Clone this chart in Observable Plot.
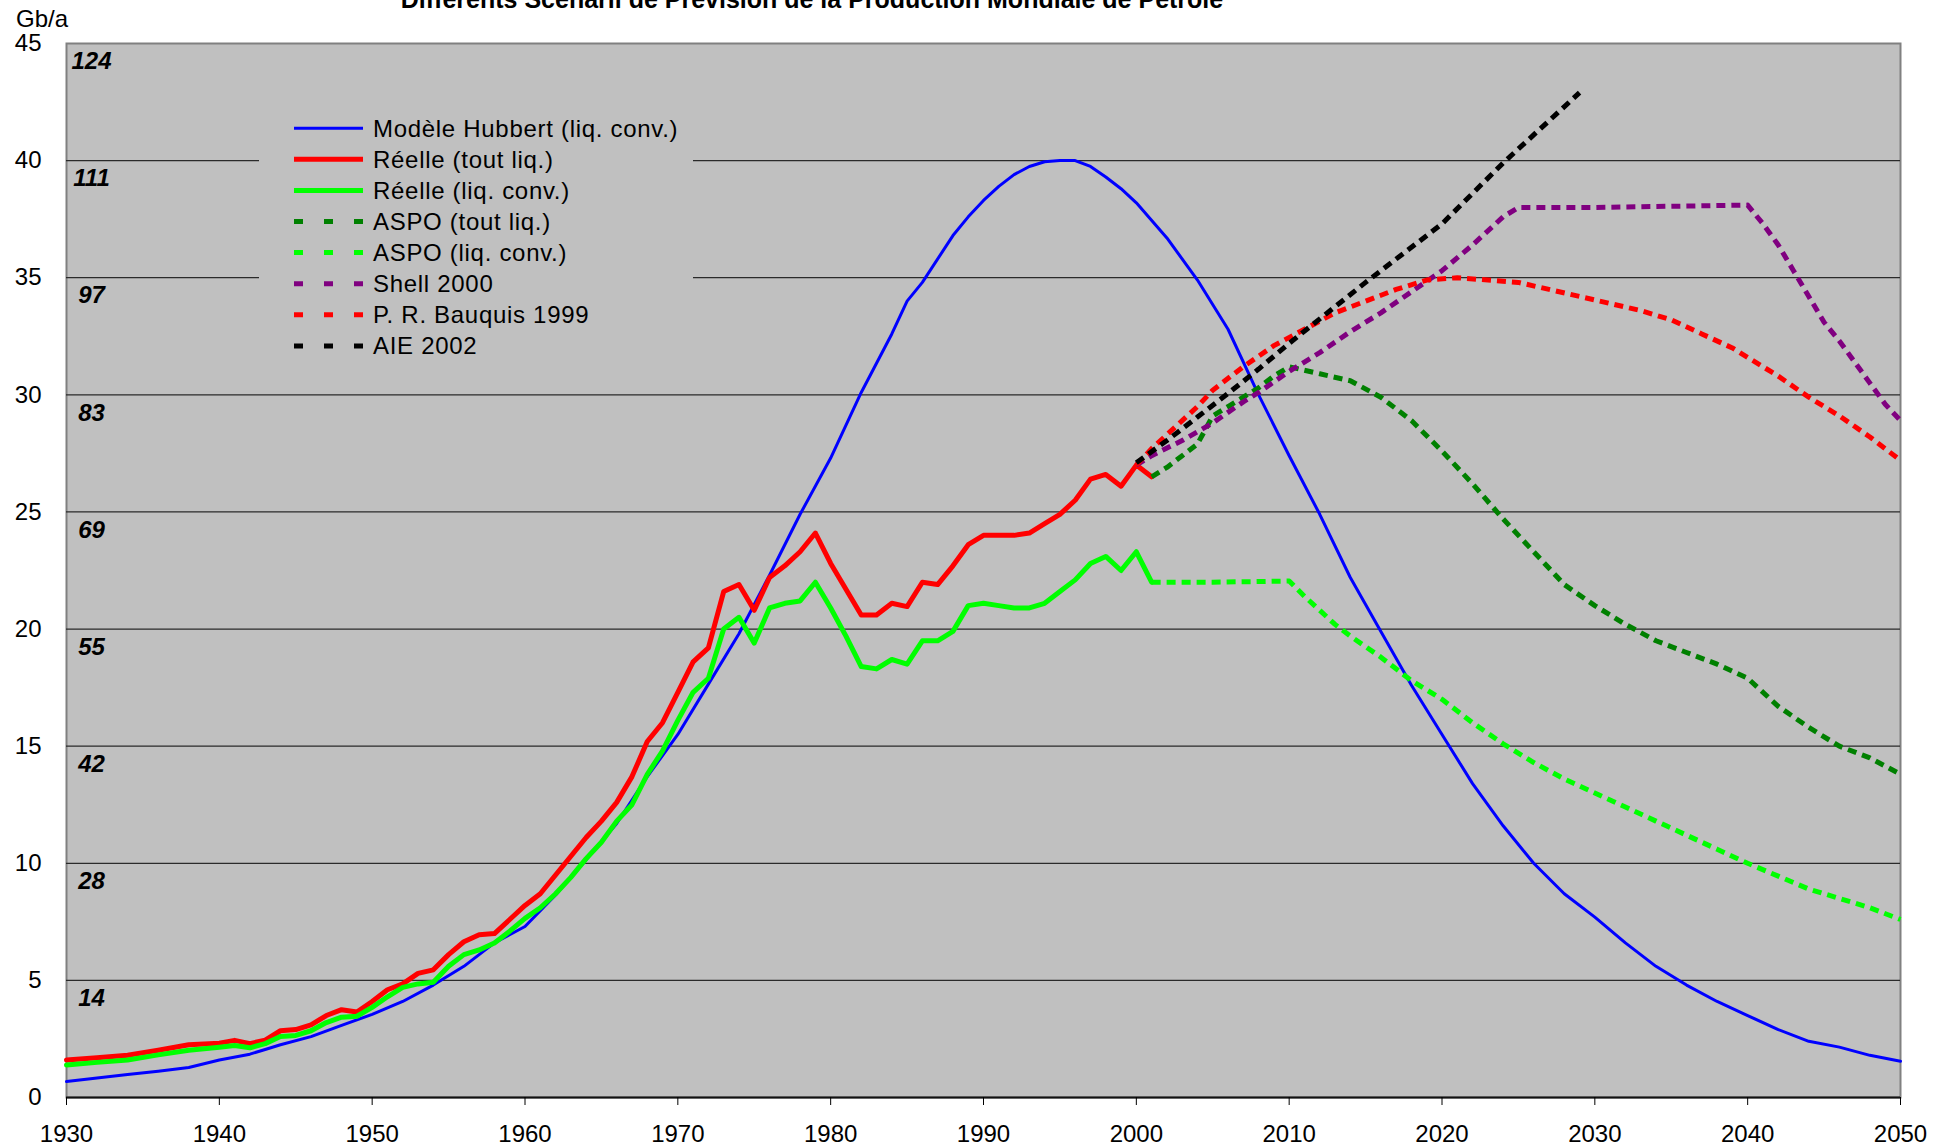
<!DOCTYPE html>
<html>
<head>
<meta charset="utf-8">
<script src="https://cdn.jsdelivr.net/npm/d3@7"></script>
<script src="https://cdn.jsdelivr.net/npm/@observablehq/plot@0.6"></script>
<style>
  html, body { margin: 0; padding: 0; background: #fff; }
  #wrap { position: relative; width: 1952px; height: 1146px; overflow: hidden; font-family: "Liberation Sans", Arial, sans-serif; }
  #overlay { position: absolute; left: 0; top: 0; pointer-events: none; }
</style>
</head>
<body>
<div id="wrap"><div id="chart"></div><svg id="overlay" width="1952" height="1146"></svg></div>
<script>
// ---- Data (Gb/a) ----
const hubbert = [[1930,0.68],[1932,0.83],[1934,0.98],[1936,1.12],[1938,1.28],[1940,1.6],[1942,1.85],[1943,2.05],[1944,2.25],[1946,2.6],[1948,3.08],[1950,3.55],[1952,4.1],[1954,4.8],[1956,5.6],[1958,6.6],[1960,7.3],[1962,8.65],[1964,10.15],[1966,11.7],[1968,13.7],[1970,15.5],[1972,17.65],[1974,19.8],[1976,22.3],[1978,24.9],[1980,27.3],[1982,30.1],[1984,32.6],[1985,34.0],[1986,34.8],[1988,36.8],[1989,37.6],[1990,38.3],[1991,38.9],[1992,39.4],[1993,39.75],[1994,39.95],[1995,40.0],[1996,40.0],[1997,39.75],[1998,39.3],[1999,38.8],[2000,38.2],[2002,36.7],[2004,34.9],[2006,32.8],[2008,30.0],[2010,27.4],[2012,24.9],[2014,22.2],[2016,19.9],[2018,17.6],[2020,15.5],[2022,13.4],[2024,11.6],[2026,10.0],[2028,8.7],[2030,7.7],[2032,6.6],[2034,5.6],[2036,4.8],[2038,4.1],[2040,3.5],[2042,2.9],[2044,2.4],[2046,2.15],[2048,1.8],[2050,1.55]];
const reelleTout = [[1930,1.6],[1932,1.7],[1934,1.8],[1936,2.02],[1938,2.25],[1940,2.32],[1941,2.44],[1942,2.3],[1943,2.45],[1944,2.85],[1945,2.9],[1946,3.1],[1947,3.5],[1948,3.75],[1949,3.65],[1950,4.1],[1951,4.6],[1952,4.85],[1953,5.3],[1954,5.45],[1955,6.1],[1956,6.65],[1957,6.95],[1958,7.0],[1959,7.6],[1960,8.2],[1961,8.7],[1962,9.5],[1963,10.3],[1964,11.1],[1965,11.8],[1966,12.6],[1967,13.7],[1968,15.2],[1969,16.0],[1970,17.3],[1971,18.6],[1972,19.2],[1973,21.6],[1974,21.9],[1975,20.8],[1976,22.2],[1977,22.7],[1978,23.3],[1979,24.1],[1980,22.8],[1981,21.7],[1982,20.6],[1983,20.6],[1984,21.1],[1985,20.96],[1986,22.0],[1987,21.9],[1988,22.7],[1989,23.6],[1990,24.0],[1991,24.0],[1992,24.0],[1993,24.1],[1994,24.5],[1995,24.9],[1996,25.5],[1997,26.4],[1998,26.6],[1999,26.1],[2000,27.0],[2001,26.5]];
const reelleConv = [[1930,1.39],[1932,1.5],[1934,1.6],[1936,1.82],[1938,2.02],[1940,2.15],[1941,2.22],[1942,2.12],[1943,2.3],[1944,2.6],[1945,2.65],[1946,2.85],[1947,3.2],[1948,3.43],[1949,3.47],[1950,3.85],[1951,4.3],[1952,4.7],[1953,4.85],[1954,4.92],[1955,5.6],[1956,6.1],[1957,6.3],[1958,6.6],[1959,7.1],[1960,7.65],[1961,8.1],[1962,8.7],[1963,9.4],[1964,10.2],[1965,10.9],[1966,11.8],[1967,12.5],[1968,13.8],[1969,14.8],[1970,16.1],[1971,17.3],[1972,17.9],[1973,20.0],[1974,20.5],[1975,19.4],[1976,20.9],[1977,21.1],[1978,21.2],[1979,22.0],[1980,20.9],[1981,19.7],[1982,18.4],[1983,18.3],[1984,18.7],[1985,18.5],[1986,19.5],[1987,19.5],[1988,19.9],[1989,21.0],[1990,21.1],[1991,21.0],[1992,20.9],[1993,20.9],[1994,21.1],[1995,21.6],[1996,22.1],[1997,22.8],[1998,23.1],[1999,22.5],[2000,23.3],[2001,22.0]];
const aspoTout = [[2001,26.5],[2002,26.9],[2003,27.4],[2004,27.9],[2005,29.1],[2006,29.5],[2007,29.9],[2008,30.3],[2009,30.8],[2010,31.2],[2012,30.9],[2014,30.6],[2016,29.9],[2018,28.9],[2020,27.6],[2022,26.2],[2024,24.7],[2026,23.3],[2028,21.9],[2030,21.0],[2032,20.2],[2034,19.5],[2036,19.0],[2038,18.5],[2040,17.9],[2042,16.7],[2044,15.8],[2046,15.0],[2048,14.5],[2050,13.8]];
const aspoConv = [[2001,22.0],[2005,22.0],[2010,22.05],[2011,21.4],[2012,20.8],[2013,20.2],[2014,19.7],[2015,19.25],[2016,18.8],[2018,17.8],[2020,17.0],[2022,16.0],[2024,15.1],[2026,14.3],[2028,13.6],[2030,13.0],[2032,12.4],[2034,11.8],[2036,11.2],[2038,10.6],[2040,10.0],[2042,9.45],[2044,8.9],[2046,8.5],[2048,8.1],[2050,7.6]];
const shell2000 = [[2000,27.0],[2001,27.4],[2003,28.05],[2005,28.8],[2007,29.7],[2008,30.1],[2010,31.0],[2012,31.8],[2014,32.7],[2016,33.5],[2018,34.4],[2020,35.3],[2022,36.4],[2024,37.6],[2025,38.0],[2030,38.0],[2035,38.05],[2040,38.1],[2041,37.3],[2042,36.4],[2043,35.3],[2044,34.2],[2045,33.1],[2046,32.3],[2047,31.4],[2048,30.5],[2049,29.6],[2050,28.9]];
const bauquis1999 = [[2000,27.0],[2001,27.7],[2003,28.9],[2004,29.5],[2005,30.2],[2007,31.2],[2009,32.1],[2011,32.8],[2013,33.5],[2015,34.0],[2017,34.5],[2019,34.9],[2021,35.0],[2023,34.9],[2025,34.8],[2027,34.5],[2029,34.2],[2031,33.9],[2033,33.6],[2035,33.2],[2037,32.6],[2039,32.0],[2040,31.6],[2042,30.8],[2044,29.9],[2046,29.1],[2048,28.2],[2050,27.2]];
const aie2002 = [[2000,27.1],[2002,28.05],[2004,29.05],[2006,30.06],[2008,31.1],[2010,32.2],[2015,34.8],[2020,37.3],[2024,39.9],[2029,42.9]];

const seriesNames = ["Modèle Hubbert (liq. conv.)","Réelle (tout liq.)","Réelle (liq. conv.)","ASPO (tout liq.)","ASPO (liq. conv.)","Shell 2000","P. R. Bauquis 1999","AIE 2002"];
const seriesData = [hubbert, reelleTout, reelleConv, aspoTout, aspoConv, shell2000, bauquis1999, aie2002];
const seriesColors = ["#0000ff","#ff0000","#00ff00","#008000","#00ff00","#800080","#ff0000","#000000"];
const seriesDashed = [false,false,false,true,true,true,true,true];
const seriesWidth = [3,5,5,5,5,5,5,5];

const xTicks = d3.range(1930, 2051, 10);
const yTicks = [0,5,10,15,20,25,30,35,40,45];
const gridValues = [5,10,15,20,25,30,35,40];
const mbdLabels = ["14","28","42","55","69","83","97","111","124"];
const mbdAt = [5,10,15,20,25,30,35,40,45];
const title = "Différents Scénarii de Prévision de la Production Mondiale de Pétrole";
const yUnit = "Gb/a";

// ---- Chart ----
const lineMarks = seriesData.map((arr, i) => Plot.line(
  arr.map(([year, value]) => ({year, value})),
  {x: "year", y: "value", stroke: seriesColors[i], strokeWidth: seriesWidth[i],
   strokeDasharray: seriesDashed[i] ? "9,6" : null,
   strokeLinecap: seriesDashed[i] ? "butt" : "round", strokeLinejoin: "round"}
));

const chart = Plot.plot({
  width: 1952, height: 1146,
  marginLeft: 66, marginRight: 52, marginTop: 43, marginBottom: 49,
  style: {fontFamily: "'Liberation Sans', Arial, sans-serif", fontSize: "24px", background: "#fff", overflow: "visible", color: "#000"},
  x: {domain: [1930, 2050], label: null},
  y: {domain: [0, 45], label: null},
  marks: [
    Plot.frame({fill: "#c0c0c0", stroke: "#808080", strokeWidth: 2}),
    Plot.ruleY(gridValues, {stroke: "#2a2a2a", strokeWidth: 1.3}),
    Plot.text(mbdLabels.map((t, i) => ({t, v: mbdAt[i]})), {x: 1930, y: "v", text: "t", dx: 25, dy: 18, fontWeight: "bold", fontStyle: "italic", fontSize: 24, textAnchor: "middle", fill: "#000"}),
    Plot.ruleY([0], {stroke: "#111", strokeWidth: 2}),
    Plot.axisX({ticks: xTicks, tickSize: 8, tickPadding: 19, tickFormat: d => String(d), label: null, fontSize: 24}),
    Plot.axisY({ticks: yTicks, tickSize: 0, tickPadding: 25, label: null, fontSize: 24}),
    ...lineMarks
  ]
});
document.getElementById("chart").appendChild(chart);

// ---- Title, unit & legend overlay ----
const ov = d3.select("#overlay");
ov.append("text").attr("x", 812).attr("y", 8).attr("text-anchor", "middle")
  .attr("font-family", "'Liberation Sans', Arial, sans-serif").attr("font-weight", "bold").attr("font-size", 25).text(title);
ov.append("text").attr("x", 16).attr("y", 27)
  .attr("font-family", "'Liberation Sans', Arial, sans-serif").attr("font-size", 24).text(yUnit);

ov.append("rect").attr("x", 259).attr("y", 102).attr("width", 434).attr("height", 268).attr("fill", "#c0c0c0");
seriesNames.forEach((name, i) => {
  const cy = 128.2 + 31.1 * i;
  ov.append("line").attr("x1", 294).attr("x2", 363).attr("y1", cy).attr("y2", cy)
    .attr("stroke", seriesColors[i]).attr("stroke-width", seriesWidth[i])
    .attr("stroke-dasharray", seriesDashed[i] ? "9,21" : null);
  ov.append("text").attr("x", 373).attr("y", cy).attr("dy", "0.35em")
    .attr("font-family", "'Liberation Sans', Arial, sans-serif").attr("font-size", 24)
    .attr("letter-spacing", "0.7px").text(name);
});
</script>
</body>
</html>
